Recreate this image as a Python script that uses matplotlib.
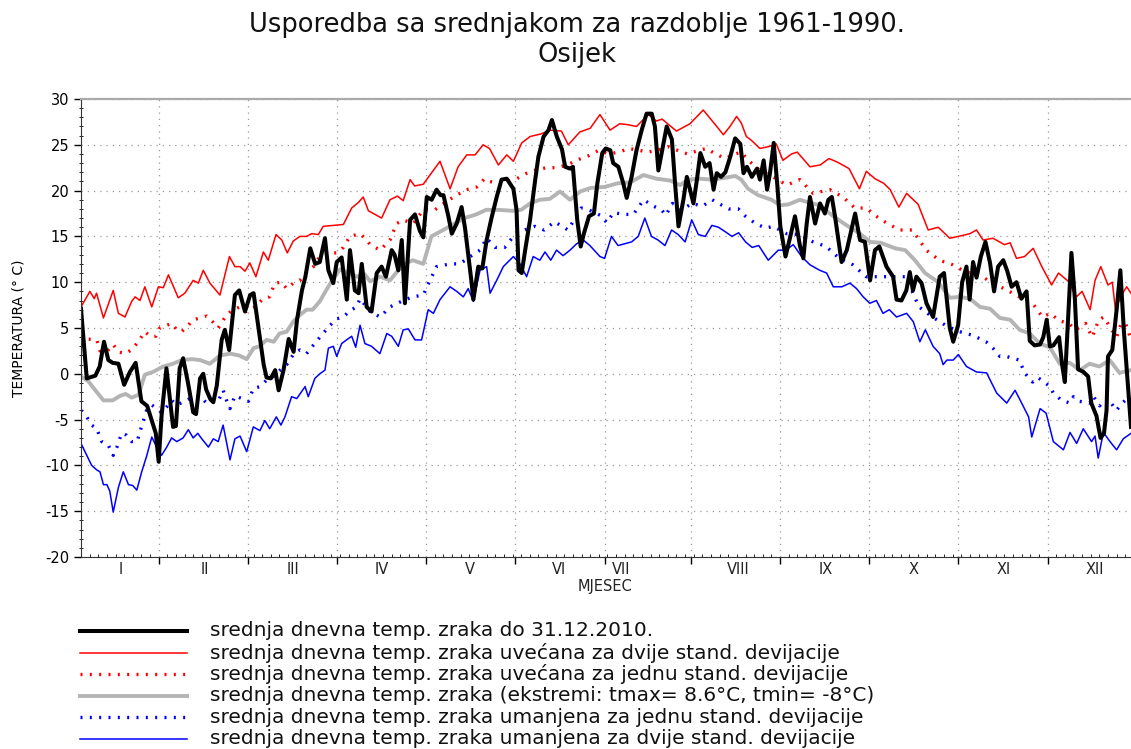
import matplotlib
matplotlib.use("Agg")
import matplotlib.pyplot as plt
from matplotlib.lines import Line2D
from matplotlib.ticker import MultipleLocator, FixedLocator

plt.rcParams['font.family'] = ['DejaVu Sans']
plt.rcParams['axes.unicode_minus'] = False

# 2010 daily mean temperature (day of year, degC)
black_days = [0, 2, 5, 6.5, 8, 9.5, 11, 13, 15, 17, 19, 21, 23, 24.5, 26, 27, 28, 29.7, 31, 32, 33,
              34.3, 35.5, 37.2, 39, 40, 41.4, 42.5, 43.5, 45, 46, 47.2, 48.9, 50, 51.5, 53.5, 55, 57,
              58.8, 60, 61.8, 63.5, 64.5, 66, 67.5, 68.7, 70.4, 72.2, 73.9, 75.1, 76.8, 78, 79.7,
              81.4, 83, 84.8, 86, 87.7, 88.9, 90.6, 92.4, 93.5, 95.2, 96.5, 97.6, 99.3, 101, 102.8,
              104.5, 106, 108, 109, 110.3, 111.5, 112.6, 114.4, 116.1, 117.8, 119, 120.2, 121.9,
              123.6, 125, 126, 127.7, 128.9, 130.6, 132.3, 133.5, 135.8, 136.4, 138.1, 139.5, 141,
              142.7, 144.5, 146.2, 148, 150.3, 151.4, 152.1, 153.2, 154.4, 156.1, 157.9, 159, 160.8,
              162.5, 163.7, 165.4, 167.2, 168.3, 170, 171, 172.5, 173.7, 174.8, 176.6, 178.3, 179.5,
              181.2, 182.4, 184, 185, 186.8, 188.5, 189.7, 191.4, 193.1, 194.9, 196.6, 198.4, 199.5,
              200.7, 202.5, 203.6, 205.4, 206.5, 207.7, 209.4, 210.6, 212.9, 214.1, 215.3, 217,
              218.5, 219.9, 221, 222.5, 224, 225.7, 227.4, 229.2, 230.3, 231.5, 233.2, 235, 236,
              237.3, 238.5, 239.5, 240.8, 242, 243.1, 244.9, 246.5, 248.2, 249.9, 251.1, 252.2,
              253.4, 255.2, 256.9, 258.6, 259.8, 261, 262.1, 263.3, 264.4, 266.2, 269.1, 270.8,
              272.5, 274.3, 276, 277.5, 280, 282.3, 283.5, 285.2, 286.9, 288.1, 289.2, 290.4, 292.2,
              293.9, 296.2, 298.5, 300, 302, 303.2, 304.9, 306.3, 307.8, 308.9, 310.1, 311.3, 312.8,
              314.4, 316, 317.4, 318.8, 320.6, 322, 323.5, 325.2, 326.9, 328.7, 329.8, 331.5, 333.4,
              334.5, 335.7, 336.8, 338, 340, 341, 342, 343.2, 344.3, 345.5, 346.6, 348.5, 350.1,
              351.2, 353, 354.4, 355.6, 356.5, 357, 358.5, 360, 361.3, 362.5, 363.8, 365]
black_vals = [7.1, -0.5, -0.2, 0.8, 3.5, 1.5, 1.2, 1.1, -1.2, 0.2, 1.2, -3.0, -3.5, -5.0, -6.5, -9.6,
              -4.6, 0.6, -3.0, -5.8, -5.7, 0.6, 1.7, -1.0, -4.2, -4.4, -0.5, 0.0, -1.7, -2.8, -3.1,
              -1.3, 3.7, 4.8, 2.6, 8.6, 9.1, 6.8, 8.6, 8.8, 4.8, 1.0, -0.4, -0.5, 0.4, -1.8, 0.4,
              3.8, 2.4, 5.9, 9.1, 10.6, 13.7, 12.0, 12.2, 14.8, 11.3, 9.9, 12.2, 12.7, 8.1, 13.5,
              9.1, 8.8, 12.0, 7.3, 6.8, 11.0, 11.7, 10.6, 13.5, 13.0, 11.3, 14.6, 7.7, 16.8, 17.4,
              15.6, 14.9, 19.3, 19.0, 20.1, 19.5, 19.5, 17.2, 15.3, 16.4, 18.2, 15.9, 9.9, 8.1,
              11.7, 11.5, 14.6, 17.0, 19.3, 21.2, 21.3, 20.2, 17.9, 11.3, 11.0, 13.5, 16.8, 21.2,
              23.7, 25.9, 26.6, 27.7, 25.9, 24.5, 22.6, 22.4, 22.6, 16.8, 13.9, 15.3, 17.2, 17.5,
              20.8, 24.1, 24.6, 24.4, 23.0, 22.6, 20.8, 19.2, 21.5, 24.4, 26.6, 28.4, 28.4, 27.0,
              22.2, 25.2, 27.0, 25.6, 20.8, 16.1, 19.0, 21.5, 18.6, 21.2, 24.1, 22.6, 23.0, 20.1,
              21.9, 21.5, 22.0, 23.7, 25.7, 25.1, 21.9, 22.6, 21.5, 22.4, 21.2, 23.3, 20.1, 21.9,
              25.2, 20.8, 16.1, 12.8, 14.9, 17.2, 14.0, 12.6, 16.2, 19.3, 16.4, 18.6, 17.5, 19.0,
              19.3, 17.2, 14.6, 12.2, 13.5, 17.5, 14.6, 14.4, 10.2, 13.5, 13.9, 11.7, 10.6, 8.1,
              8.0, 9.1, 11.1, 9.1, 10.6, 9.9, 7.7, 6.2, 10.6, 11.0, 5.0, 3.5, 5.3, 10.0, 11.7, 8.1,
              12.2, 10.5, 12.8, 14.4, 12.1, 9.0, 11.7, 12.4, 11.2, 9.5, 10.0, 8.2, 9.0, 3.6, 3.1,
              3.2, 4.0, 5.9, 3.0, 3.1, 4.0, 1.1, -0.9, 6.5, 13.2, 8.1, 0.5, 0.2, -0.3, -3.2, -4.6,
              -7.0, -6.5, -4.0, 1.9, 2.6, 7.0, 11.3, 4.8, -0.7, -5.8]

# mean + 2 standard deviations
red2_days = [0, 3.1, 4.6, 5.4, 7.8, 11.2, 13, 15.3, 17.6, 18.8, 20.5, 22.2, 24.6, 26.9, 28.6, 30.4,
             33.8, 36.1, 39, 40.8, 42.5, 44.8, 48.3, 51.6, 53.5, 55.3, 57, 58.7, 60.8, 63.4, 65.1,
             67.8, 69.8, 71.7, 73.8, 76.1, 78.4, 80.2, 82.5, 84.2, 87.7, 91.2, 94.1, 96.4, 98.1,
             99.9, 103.3, 104.5, 107.4, 110, 112, 114.4, 116, 119, 121.3, 124.8, 128.3, 131.1,
             134.1, 137, 139.8, 142, 145.1, 148, 150.3, 153.2, 156.1, 160, 163, 167, 169.4, 173.4,
             177, 180.4, 183.9, 187.3, 190, 193.1, 197.2, 200, 202, 207, 211.7, 216.3, 221, 223.3,
             225.6, 227.9, 229.5, 231.3, 233, 236, 239, 241.7, 244, 247, 249, 253.4, 257, 260, 263,
             267, 270.6, 273, 276, 279, 281.3, 284.3, 287, 291, 294.5, 298, 302, 305, 309, 311.3,
             313.6, 317, 321, 323, 325.2, 328, 331, 334, 337.4, 339.8, 343.2, 346, 348, 350.8,
             352.5, 354.5, 357, 358.5, 359.6, 361.5, 363.5, 365]
red2_vals = [7.3, 9.0, 8.2, 8.8, 6.1, 9.1, 6.6, 6.2, 7.9, 8.4, 8.0, 9.5, 7.3, 9.5, 9.4, 10.8, 8.3,
             8.8, 10.2, 9.9, 11.3, 9.9, 8.6, 12.8, 11.7, 11.7, 11.2, 12.1, 10.6, 13.3, 12.4, 15.2,
             14.6, 13.2, 14.5, 15.0, 15.0, 15.3, 15.2, 16.1, 16.2, 16.3, 18.1, 18.7, 19.3, 17.8,
             17.2, 17.0, 19.0, 19.4, 18.9, 21.2, 20.5, 20.7, 21.7, 23.2, 20.2, 22.6, 23.9, 23.9,
             25.0, 24.6, 22.8, 23.9, 23.2, 25.2, 25.9, 26.2, 26.6, 26.5, 25.0, 26.4, 26.8, 28.3,
             26.6, 27.3, 27.2, 27.0, 28.3, 27.6, 27.8, 26.5, 27.3, 28.8, 27.0, 26.1, 27.0, 28.1,
             27.4, 25.9, 25.5, 24.6, 24.8, 25.1, 23.3, 24.0, 24.2, 22.6, 22.8, 23.5, 23.1, 22.4,
             20.2, 22.1, 21.3, 20.8, 20.1, 18.2, 19.7, 18.5, 15.7, 16.0, 14.8, 15.0, 15.3, 15.7,
             14.6, 14.8, 14.1, 14.3, 12.6, 12.8, 13.7, 11.7, 9.7, 11.0, 10.1, 8.4, 9.0, 7.0, 10.2,
             11.7, 9.7, 10.0, 7.0, 8.5, 9.5, 8.8]

# mean + 1 standard deviation
red1_days = [0, 2, 5.5, 6.6, 8.9, 11.2, 13, 15.3, 17.5, 19.9, 22.2, 24, 26, 27.4, 29.8, 31.5, 33.3,
             35, 37, 39, 41.4, 43.7, 46, 47.7, 49.5, 51.2, 53, 55.3, 57.6, 60.5, 63.3, 65.5, 67.4,
             69.7, 71.5, 73.8, 76.1, 78.4, 80.8, 83, 86.6, 89, 91.2, 93.5, 97, 99.3, 100.5, 104,
             107.4, 109.7, 112, 115.5, 119, 123, 127, 130, 134, 137.6, 140.3, 142, 145, 148, 151.5,
             155, 158.5, 162, 165.5, 169, 173, 176.4, 180, 183.3, 187, 190.5, 194, 197, 200.5, 204,
             207.3, 210.8, 214.8, 217.5, 220.5, 224, 227.5, 229.5, 232, 236, 240.6, 245.3, 249.9,
             254.5, 260.3, 264.9, 269, 273, 276.4, 279.9, 284.5, 289, 293.8, 298.4, 303, 307.6,
             312.3, 316.9, 321.5, 326.2, 330.8, 334.2, 337, 340, 343.4, 345.7, 349.2, 351.5, 353.8,
             355.6, 357.7, 360, 362.3, 364.1, 365]
red1_vals = [3.3, 3.8, 3.7, 2.5, 2.4, 3.2, 2.4, 2.2, 2.6, 3.5, 4.6, 4.1, 4.1, 5.0, 5.3, 5.5, 4.8,
             4.6, 5.2, 5.9, 6.1, 6.3, 5.6, 5.0, 5.9, 6.6, 7.0, 7.3, 6.8, 7.3, 8.2, 8.4, 9.9, 10.0,
             9.3, 9.9, 10.2, 11.1, 11.7, 12.8, 13.2, 13.2, 13.8, 15.0, 15.3, 14.6, 14.1, 13.5, 14.6,
             16.4, 16.8, 16.4, 17.9, 17.9, 18.8, 19.4, 20.1, 20.4, 21.3, 21.0, 20.8, 21.0, 21.3,
             21.9, 22.3, 22.5, 22.5, 22.8, 23.4, 23.8, 24.4, 24.0, 24.2, 24.6, 24.4, 24.2, 24.4,
             24.8, 24.4, 24.0, 24.4, 24.6, 24.0, 23.5, 24.0, 24.2, 23.3, 22.2, 21.5, 20.6, 21.2,
             19.7, 20.1, 19.3, 18.1, 18.1, 17.2, 16.5, 15.7, 15.7, 13.5, 12.4, 11.9, 11.1, 10.8,
             9.9, 9.2, 8.4, 7.7, 6.2, 6.6, 5.8, 5.5, 4.8, 5.5, 4.0, 5.9, 6.2, 5.1, 4.0, 6.2, 4.6,
             3.7]

# 1961-1990 mean
mean_days = [0, 2.5, 5.5, 7.8, 11, 13.6, 15.5, 17.6, 20, 22.2, 25, 28.6, 32, 35, 38.5, 41.4, 44.8,
             48.3, 51.8, 55, 57.6, 60, 62, 64.5, 67, 69, 71.5, 73.8, 76, 78.4, 80.5, 83, 85, 87.5,
             90, 93, 96, 98.5, 100.5, 104, 107.4, 111.9, 115.3, 119, 121.8, 125.9, 129.3, 133.3,
             137.4, 140.8, 145, 149.9, 153, 156.1, 159.5, 163, 166.5, 170, 173.5, 177.3, 182,
             186.6, 191, 195.5, 200, 204.8, 208.3, 211, 215.1, 219, 224, 227.4, 229.5, 231.9, 235.4,
             240, 243, 246, 249.9, 253, 256.8, 261.5, 266.2, 270.8, 274.3, 278, 283, 286.5, 289.9,
             293.4, 298, 302, 305.5, 309, 312.5, 316, 319.4, 323, 326.3, 329.8, 333.3, 336.8,
             340.2, 343.7, 347.2, 350.6, 354, 357.6, 361, 365]
mean_vals = [-0.3, -0.8, -2.0, -2.9, -2.9, -2.4, -2.2, -2.6, -2.3, -0.1, 0.2, 0.8, 1.1, 1.5, 1.6,
             1.5, 1.1, 2.0, 2.2, 2.0, 1.6, 2.8, 3.0, 3.7, 3.5, 4.4, 4.6, 5.7, 6.4, 7.0, 7.0, 7.9,
             9.0, 10.3, 11.4, 11.0, 10.6, 10.9, 10.1, 10.6, 10.2, 11.9, 12.4, 12.0, 15.0, 15.7,
             16.3, 17.0, 17.4, 17.9, 17.9, 17.8, 17.9, 18.6, 19.0, 19.1, 19.9, 19.0, 19.9, 20.3,
             20.4, 20.8, 20.9, 21.7, 21.3, 21.1, 20.6, 21.2, 21.3, 21.2, 21.4, 21.6, 21.2, 20.2,
             19.5, 19.0, 18.4, 18.5, 19.0, 18.7, 18.4, 17.2, 16.2, 15.3, 14.4, 14.3, 13.7, 13.5,
             12.4, 11.0, 10.0, 8.3, 8.4, 8.2, 7.3, 7.1, 6.1, 5.9, 4.8, 4.4, 3.3, 2.9, 1.1, 1.2,
             0.4, 1.1, 0.8, 1.5, 0.1, 0.4]

# mean - 1 standard deviation
blue1_days = [0, 2, 3.7, 5.5, 7.2, 9.5, 11.2, 12.5, 14.1, 15.8, 17.6, 19.5, 21, 22.8, 24.6, 26.3,
              28, 29.8, 31.5, 33.3, 36.1, 39, 41.4, 43.7, 46, 47.7, 49.4, 50.6, 51.8, 53.5, 55.9,
              58.2, 59.9, 62.2, 64.5, 66.8, 69.2, 71.5, 73.8, 76.1, 78.4, 80.7, 83.6, 86.6, 88.9,
              91.2, 93.5, 95.8, 97, 98.5, 100.5, 104, 107.4, 112, 115.3, 119, 121.3, 123.6, 128.3,
              131.7, 135.3, 138.7, 141, 144, 147.3, 150.8, 154.2, 157.7, 161, 164.6, 169.3, 173.9,
              176.5, 180.5, 182.8, 185.1, 188.6, 192, 195.6, 199, 201.8, 203.3, 205.6, 208.8,
              212.4, 216, 219.4, 222.8, 225.2, 228.5, 231, 234.5, 238, 240.6, 245.3, 249.9, 254.5,
              259, 263.6, 268.3, 272.9, 277.5, 282, 286.7, 291.3, 296, 301, 305.4, 310, 314.6, 317,
              319.4, 321.6, 324, 326.2, 328, 330.8, 332.5, 334.5, 336.8, 338, 340.5, 343.7, 345,
              347, 350.6, 352, 354.1, 355.4, 357, 359.9, 362, 364.3, 365]
blue1_vals = [-4.0, -4.7, -5.6, -6.0, -7.4, -7.8, -8.9, -8.0, -6.5, -6.7, -7.4, -7.4, -5.8, -4.0,
              -3.4, -3.8, -4.2, -3.6, -2.9, -3.4, -3.0, -2.5, -2.5, -3.2, -2.9, -3.0, -1.8, -2.9,
              -3.8, -2.4, -2.7, -3.0, -1.6, -1.4, -0.7, -0.3, 0.4, 1.0, 2.1, 2.6, 2.2, 3.1, 4.2,
              5.3, 6.0, 6.2, 6.9, 7.3, 8.2, 7.6, 6.8, 6.2, 7.3, 8.0, 8.4, 8.6, 10.2, 11.7, 12.0,
              12.0, 12.8, 13.5, 14.8, 13.8, 13.8, 15.2, 15.7, 16.1, 15.7, 16.6, 15.7, 18.1, 17.9,
              17.3, 16.5, 17.6, 17.4, 17.4, 19.0, 18.3, 17.9, 17.3, 18.6, 17.9, 18.6, 18.3, 19.0,
              18.4, 18.0, 18.0, 17.2, 16.4, 15.9, 16.1, 15.3, 15.2, 14.4, 13.9, 12.6, 11.9, 10.6,
              10.6, 10.6, 10.6, 7.3, 6.2, 5.2, 4.6, 4.2, 3.5, 2.8, 1.9, 1.9, 1.7, 1.5, 0.1, -0.9,
              -0.4, -0.8, -1.4, -2.1, -2.8, -3.2, -2.5, -3.0, -3.2, -2.5, -3.5, -3.0, -2.7, -4.0,
              -3.2, -2.5, -3.0]

# mean - 2 standard deviations
blue2_days = [0, 2, 3.7, 5.5, 6.6, 7.8, 9, 10, 11.2, 13, 14.7, 16.5, 18, 19.4, 21.1, 22.8, 24.6,
              26.3, 28, 29.8, 31.5, 33.3, 35.5, 37.3, 39, 40.6, 42, 44.3, 46, 47.7, 49.4, 51.8,
              53.5, 55.3, 57.6, 59.9, 62.2, 63.9, 65.6, 67.9, 69.5, 70.9, 73.2, 75, 77.9, 79, 81.3,
              83, 84.8, 86, 87.7, 88.9, 90.6, 92.3, 94.1, 95.5, 97, 98.7, 101, 103.9, 106.3, 108,
              110.3, 112, 113.8, 116.1, 118.4, 120.7, 122.5, 124.8, 128.3, 130.6, 132.9, 134.6,
              136.4, 138.7, 141, 142.2, 144.5, 146.8, 150.3, 152.6, 154.9, 157.2, 159.5, 161.3,
              163.3, 165.3, 167.6, 170, 172.3, 174.6, 176.9, 180.4, 182, 184.4, 186.7, 189, 191.4,
              193.7, 196, 198.3, 200.6, 203, 205.3, 207.6, 210, 212.3, 214.6, 217, 219.3, 221.6,
              224, 226.3, 228.6, 231, 233.3, 235.6, 238.9, 242.4, 245, 247.6, 250.5, 253.4, 256.8,
              259.2, 261.5, 264.5, 267.3, 269.6, 271.9, 274.2, 276.5, 278.8, 281, 283.5, 287, 289.3,
              291.6, 293.5, 296.2, 298.5, 299.7, 301, 303.2, 305, 307.8, 311.3, 314.8, 318.3, 321.8,
              324.7, 327, 329.4, 330.5, 333.4, 335.5, 338, 341.5, 343.8, 346.1, 348.4, 351.3, 352.5,
              353.6, 355.4, 357.7, 360, 362.3, 365]
blue2_vals = [-7.6, -8.9, -10.0, -10.5, -10.7, -12.1, -12.1, -12.8, -15.1, -12.4, -10.7, -12.1,
              -12.2, -12.7, -10.7, -9.0, -6.9, -8.0, -8.9, -8.0, -7.0, -7.4, -7.0, -6.1, -7.0, -6.5,
              -7.1, -8.0, -7.1, -7.4, -5.6, -9.4, -7.1, -6.8, -8.5, -5.8, -6.2, -5.1, -6.0, -4.7,
              -5.6, -4.7, -2.5, -2.7, -1.4, -2.5, -0.5, 0.0, 0.4, 2.8, 3.0, 1.9, 3.3, 3.7, 4.1, 2.9,
              5.3, 3.3, 3.0, 2.2, 4.4, 4.1, 3.0, 4.8, 4.9, 3.7, 3.7, 7.0, 6.6, 8.1, 9.5, 9.0, 8.4,
              9.3, 7.9, 11.3, 11.7, 8.8, 10.2, 11.7, 12.8, 12.0, 10.6, 12.8, 12.4, 13.3, 12.4, 13.5,
              12.9, 13.5, 14.2, 14.6, 14.0, 12.8, 12.6, 15.0, 14.0, 14.2, 14.4, 15.0, 17.0, 15.0,
              14.6, 14.0, 15.7, 15.2, 14.4, 16.8, 15.2, 15.0, 16.2, 16.0, 15.5, 15.0, 15.4, 14.4,
              13.8, 14.0, 12.4, 13.5, 13.5, 14.1, 12.8, 11.9, 11.3, 11.0, 9.5, 9.5, 9.9, 9.3, 8.4,
              7.7, 8.0, 6.6, 7.0, 6.2, 6.6, 5.7, 3.5, 4.8, 3.0, 2.2, 1.0, 1.5, 1.5, 2.1, 0.8, 0.2,
              0.1, -2.1, -3.2, -1.8, -3.2, -4.7, -6.9, -3.8, -4.3, -7.4, -8.3, -6.4, -7.6, -6.0,
              -7.4, -6.8, -9.2, -6.4, -7.4, -8.3, -7.1, -6.5]

month_edges = [27, 58, 89, 120, 151, 182, 212, 243, 274, 305, 336]
month_label_pos = [13.9, 43.1, 73.7, 104.6, 135.2, 166.1, 187.7, 228.4, 258.9, 289.5, 320.8, 352.4]
month_labels = ['I', 'II', 'III', 'IV', 'V', 'VI', 'VII', 'VIII', 'IX', 'X', 'XI', 'XII']

legend_labels = [
    'srednja dnevna temp. zraka do 31.12.2010.',
    'srednja dnevna temp. zraka uvećana za dvije stand. devijacije',
    'srednja dnevna temp. zraka uvećana za jednu stand. devijacije',
    'srednja dnevna temp. zraka (ekstremi: tmax= 8.6°C, tmin= -8°C)',
    'srednja dnevna temp. zraka umanjena za jednu stand. devijacije',
    'srednja dnevna temp. zraka umanjena za dvije stand. devijacije',
]

W, H = 1131, 749
fig = plt.figure(figsize=(W / 100, H / 100), dpi=100)
ax = fig.add_axes([81 / W, 1 - 557 / H, 1050 / W, 458 / H])

dots = (0, (0.6, 2.2))
styles = [
    dict(color='black', lw=2.9, ls='-'),
    dict(color='#ff0000', lw=1.1, ls='-'),
    dict(color='#ff0000', lw=2.4, ls=dots),
    dict(color='#b4b4b4', lw=2.8, ls='-'),
    dict(color='#0000ff', lw=2.4, ls=dots),
    dict(color='#0000ff', lw=1.1, ls='-'),
]

ax.plot(red2_days, red2_vals, **styles[1])
ax.plot(red1_days, red1_vals, **styles[2])
ax.plot(mean_days, mean_vals, **styles[3])
ax.plot(blue1_days, blue1_vals, **styles[4])
ax.plot(blue2_days, blue2_vals, **styles[5])
ax.plot(black_days, black_vals, **styles[0])

ax.set_xlim(0, 365)
ax.set_ylim(-20, 30)
ax.xaxis.set_major_locator(FixedLocator(month_edges))
ax.xaxis.set_minor_locator(MultipleLocator(3))
ax.set_xticklabels([])
ax.yaxis.set_major_locator(MultipleLocator(5))
ax.yaxis.set_minor_locator(MultipleLocator(1))
ax.tick_params(axis='y', which='major', direction='out', length=5, width=1, labelsize=10.5)
ax.tick_params(axis='y', which='minor', direction='inout', length=3, width=0.6)
ax.tick_params(axis='x', which='major', direction='out', length=5, width=1)
ax.tick_params(axis='x', which='minor', direction='in', length=2, width=0.6)
ax.grid(True, which='major', color='#999999', ls=(0, (1, 4)), lw=0.9)
for s in ['left', 'bottom']:
    ax.spines[s].set_color('#333333')
ax.spines['top'].set_color('#aaaaaa')
ax.spines['top'].set_linewidth(1.6)
ax.spines['right'].set_visible(False)

for pos, lab in zip(month_label_pos, month_labels):
    ax.text(pos, -21.4, lab, ha='center', va='center', fontsize=10.5, color='#222222')
ax.text(182, -23.2, 'MJESEC', ha='center', va='center', fontsize=10.5, color='#222222')
ax.set_ylabel('TEMPERATURA (° C)', fontsize=10, labelpad=14)

fig.text(577 / W, 1 - 25 / H, 'Usporedba sa srednjakom za razdoblje 1961-1990.',
         ha='center', va='center', fontsize=18.5, color='#111111')
fig.text(577 / W, 1 - 55 / H, 'Osijek', ha='center', va='center', fontsize=18.5, color='#111111')

for i, (lab, st) in enumerate(zip(legend_labels, styles)):
    y = 1 - (631 + 21.6 * i) / H
    fig.add_artist(Line2D([80 / W, 187 / W], [y, y], transform=fig.transFigure, **st))
    fig.text(210 / W, y, lab, ha='left', va='center', fontsize=14.5, color='#111111')

fig.savefig('out.png', dpi=100)
